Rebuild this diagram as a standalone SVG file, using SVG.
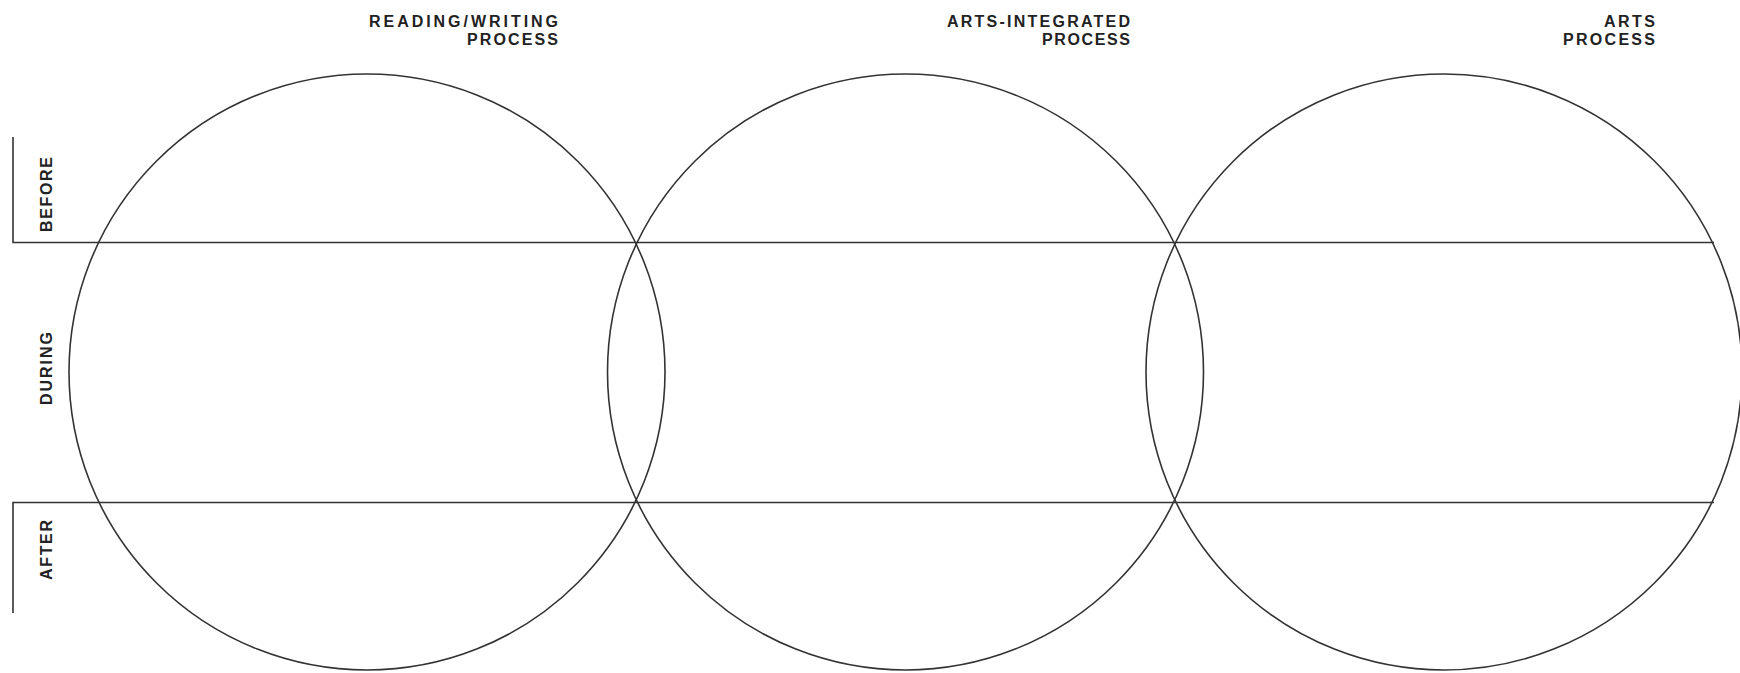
<svg xmlns="http://www.w3.org/2000/svg" width="1740" height="673" viewBox="0 0 1740 673">
<style>
.c{fill:none;stroke:#333;stroke-width:1.6}
.l{fill:none;stroke:#333;stroke-width:1.6}
.t{font-family:"Liberation Sans",Arial,sans-serif;font-weight:bold;font-size:16px;fill:#222}
</style>
<rect width="1740" height="673" fill="#fff"/>
<g id="circle-reading-writing"><circle class="c" cx="367" cy="372" r="298"/></g>
<g id="circle-arts-integrated"><circle class="c" cx="905.5" cy="372" r="298"/></g>
<g id="circle-arts"><circle class="c" cx="1444" cy="372" r="298"/></g>
<g id="connectors">
<polyline class="l" points="13,137 13,242.5 1714,242.5"/>
<polyline class="l" points="13,613 13,502.5 1714,502.5"/>
</g>
<g id="label-reading-writing">
<text class="t" x="369" y="27" textLength="189" lengthAdjust="spacing">READING/WRITING</text>
<text class="t" x="467" y="45" textLength="91" lengthAdjust="spacing">PROCESS</text>
</g>
<g id="label-arts-integrated">
<text class="t" x="947" y="27" textLength="183" lengthAdjust="spacing">ARTS-INTEGRATED</text>
<text class="t" x="1042" y="45" textLength="88" lengthAdjust="spacing">PROCESS</text>
</g>
<g id="label-arts">
<text class="t" x="1604" y="27" textLength="51" lengthAdjust="spacing">ARTS</text>
<text class="t" x="1563" y="45" textLength="92" lengthAdjust="spacing">PROCESS</text>
</g>
<g id="label-before"><text class="t" transform="translate(52,232) rotate(-90)" textLength="75" lengthAdjust="spacing">BEFORE</text></g>
<g id="label-during"><text class="t" transform="translate(52,405) rotate(-90)" textLength="73" lengthAdjust="spacing">DURING</text></g>
<g id="label-after"><text class="t" transform="translate(52,580) rotate(-90)" textLength="60" lengthAdjust="spacing">AFTER</text></g>
</svg>
